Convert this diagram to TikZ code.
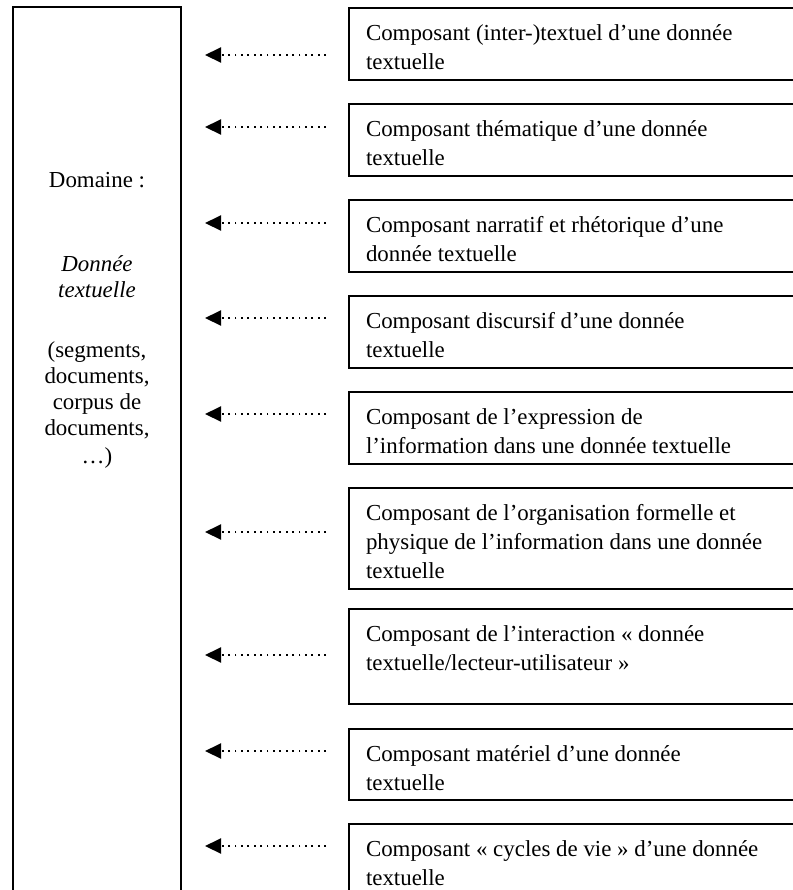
\documentclass[tikz,border=0pt]{standalone}
\usepackage{fontspec}
\setmainfont{Liberation Serif}
\usetikzlibrary{arrows.meta}
\newcommand\comptext[2]{\parbox[c][#1][t]{220pt}{\raggedright\rule{0pt}{16pt}#2}}

\begin{document}
\begin{tikzpicture}[x=0.5pt,y=-0.5pt,
	compo/.style={draw,line width=1pt,anchor=north west,inner xsep=8.5pt,inner ysep=0pt,font=\fontsize{11.45}{14.5}\selectfont},
	link/.style={line width=1pt,dash pattern=on 0.9pt off 2.3pt,-{Triangle[length=8pt,width=7.5pt]}}]
	\useasboundingbox (0,0) rectangle (793,890);
	\clip (0,0) rectangle (793,890);
	% domaine
	\draw[line width=1pt] (13,900) -- (13,7) -- (181,7) -- (181,900);
	\node (dom) at (97,463) [anchor=base,align=center,inner sep=0pt,font=\fontsize{11.45}{13}\selectfont]{Domaine :\\[29pt]\textit{Donnée}\\\textit{textuelle}\\[17pt](segments,\\documents,\\corpus de\\documents,\\[1pt]…)};
	% composants
	\node (c1) at (348,7) [compo]{\comptext{36pt}{Composant (inter-)textuel d’une donnée\\textuelle}};
	\node (c2) at (348,103) [compo]{\comptext{36pt}{Composant thématique d’une donnée\\textuelle}};
	\node (c3) at (348,199) [compo]{\comptext{36pt}{Composant narratif et rhétorique d’une\\donnée textuelle}};
	\node (c4) at (348,295) [compo]{\comptext{36pt}{Composant discursif d’une donnée\\textuelle}};
	\node (c5) at (348,391) [compo]{\comptext{36pt}{Composant de l’expression de\\l’information dans une donnée textuelle}};
	\node (c6) at (348,487) [compo]{\comptext{50.5pt}{Composant de l’organisation formelle et\\physique de l’information dans une donnée\\textuelle}};
	\node (c7) at (348,608) [compo]{\comptext{47.5pt}{Composant de l’interaction « donnée\\textuelle/lecteur-utilisateur »}};
	\node (c8) at (348,728) [compo]{\comptext{35.5pt}{Composant matériel d’une donnée\\textuelle}};
	\node (c9) at (348,823) [compo]{\comptext{36pt}{Composant « cycles de vie » d’une donnée\\textuelle}};
	% fleches
	\coordinate (s1) at (326,55); \coordinate (t1) at (205,55);
	\coordinate (s2) at (326,127); \coordinate (t2) at (205,127);
	\coordinate (s3) at (326,223); \coordinate (t3) at (205,223);
	\coordinate (s4) at (326,318); \coordinate (t4) at (205,318);
	\coordinate (s5) at (326,414); \coordinate (t5) at (205,414);
	\coordinate (s6) at (326,532); \coordinate (t6) at (205,532);
	\coordinate (s7) at (326,655); \coordinate (t7) at (205,655);
	\coordinate (s8) at (326,751); \coordinate (t8) at (205,751);
	\coordinate (s9) at (326,846); \coordinate (t9) at (205,846);
	\draw[link] (s1) -- (t1);
	\draw[link] (s2) -- (t2);
	\draw[link] (s3) -- (t3);
	\draw[link] (s4) -- (t4);
	\draw[link] (s5) -- (t5);
	\draw[link] (s6) -- (t6);
	\draw[link] (s7) -- (t7);
	\draw[link] (s8) -- (t8);
	\draw[link] (s9) -- (t9);
\end{tikzpicture}
\end{document}
